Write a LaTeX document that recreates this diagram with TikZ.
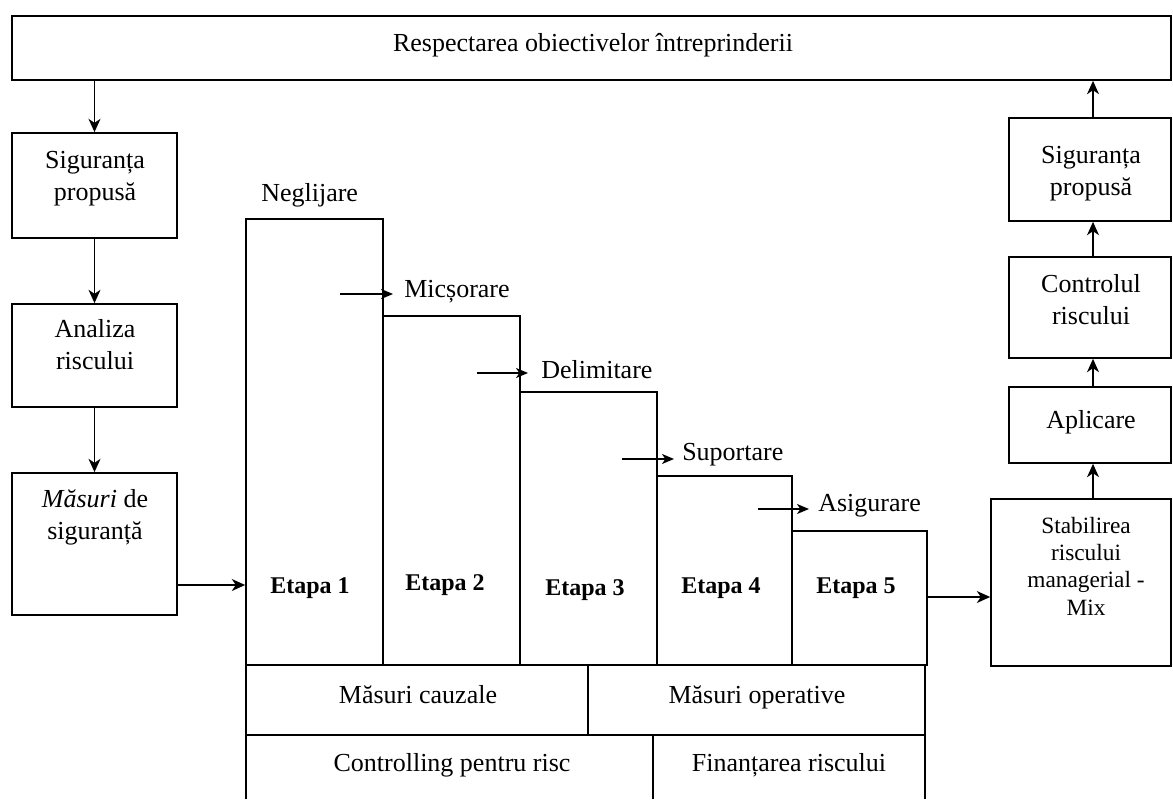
\documentclass[tikz,border=0pt]{standalone}
\usepackage{fontspec}
\setmainfont{Liberation Serif}
\usetikzlibrary{arrows.meta,fit}
\begin{document}
\begin{tikzpicture}[x=0.75pt,y=-0.75pt,
  box/.style={draw,line width=1.3pt,inner sep=0pt},
  nobox/.style={inner sep=0pt},
  txt/.style={inner sep=0pt,align=center,font=\fontsize{19.5}{24}\selectfont},
  small/.style={inner sep=0pt,align=center,font=\fontsize{17.5}{20.5}\selectfont},
  etap/.style={inner sep=0pt,font=\fontsize{18}{22}\selectfont\bfseries},
  arr/.style={line width=1.1pt,-{Stealth[length=10pt,width=9pt,inset=3pt]}},
  sarr/.style={line width=1pt,-{Stealth[length=9pt,width=7.5pt,inset=2.5pt]}}]
\useasboundingbox (0,0) rectangle (1173,799);
% top box
\node[box,fit={(12,16)(1171,80)}] (top) {};
\node[txt] (topT) at (593,45) {Respectarea obiectivelor întreprinderii};
% left column
\node[box,fit={(12,133)(177,238)}] (sigL) {};
\node[txt] (sigLT) at (95,179) {Siguranța\\propusă};
\node[box,fit={(12,304)(177,407)}] (anal) {};
\node[txt] (analT) at (95,345) {Analiza\\riscului};
\node[box,fit={(12,473)(177,615)}] (mas) {};
\node[txt] (masT) at (95,517) {\itshape Măsuri\upshape{} de\\siguranță};
\draw[arr] (sigL.north |- top.south) -- (sigL.north);
\draw[arr] (sigL.south) -- (anal.north);
\draw[arr] (anal.south) -- (mas.north);
% stairs
\node[box,fit={(246,219)(383,665)}] (e1) {};
\node[box,fit={(383,316)(520,665)}] (e2) {};
\node[box,fit={(520,392)(657,665)}] (e3) {};
\node[box,fit={(657,476)(792,665)}] (e4) {};
\node[box,fit={(792,531)(927,665)}] (e5) {};
\node[etap] (e1T) at (310,588) {Etapa 1};
\node[etap] (e2T) at (445,585) {Etapa 2};
\node[etap] (e3T) at (585,590) {Etapa 3};
\node[etap] (e4T) at (721,588) {Etapa 4};
\node[etap] (e5T) at (856,588) {Etapa 5};
\coordinate (masOut) at (mas.east |- 0,585);
\draw[arr] (masOut) -- (masOut -| e1.west);
% stage labels and small arrows
\node[txt,anchor=west] (negl) at (261,195) {Neglijare};
\node[txt,anchor=west] (mic) at (404,292) {Micșorare};
\node[txt,anchor=west] (del) at (541,370) {Delimitare};
\node[txt,anchor=west] (sup) at (682,455) {Suportare};
\node[txt,anchor=west] (asi) at (818,506) {Asigurare};
\coordinate (a1s) at (340,294); \coordinate (a1e) at (393,294);
\coordinate (a2s) at (477,373); \coordinate (a2e) at (528,373);
\coordinate (a3s) at (622,459); \coordinate (a3e) at (674,459);
\coordinate (a4s) at (758,509); \coordinate (a4e) at (809,509);
\draw[sarr] (a1s) -- (a1e);
\draw[sarr] (a2s) -- (a2e);
\draw[sarr] (a3s) -- (a3e);
\draw[sarr] (a4s) -- (a4e);
% bottom rows
\node[box,fit={(246,665)(588,735)}] (cauz) {};
\node[box,fit={(588,665)(925,735)}] (oper) {};
\node[txt,anchor=base] (cauzT) at (418,703) {Măsuri cauzale};
\node[txt,anchor=base] (operT) at (757,703) {Măsuri operative};
\node[nobox,fit={(246,735)(653,799)}] (ctrl) {};
\node[nobox,fit={(653,735)(925,799)}] (fin) {};
\draw[line width=1.3pt] (ctrl.south west) -- (ctrl.north west) -- (fin.north east) -- (fin.south east);
\draw[line width=1.3pt] (ctrl.north east) -- (ctrl.south east);
\node[txt,anchor=base] (ctrlT) at (452,771) {Controlling pentru risc};
\node[txt,anchor=base] (finT) at (789,771) {Finanțarea riscului};
% right column
\node[box,fit={(991,499)(1171,666)}] (stab) {};
\node[small] (stabT) at (1086,566) {Stabilirea\\riscului\\managerial -\\Mix};
\node[box,fit={(1009,387)(1171,463)}] (apl) {};
\node[txt] (aplT) at (1091,422) {Aplicare};
\node[box,fit={(1009,257)(1171,358)}] (ctl) {};
\node[txt] (ctlT) at (1091,300) {Controlul\\riscului};
\node[box,fit={(1009,118)(1171,221)}] (sigR) {};
\node[txt] (sigRT) at (1091,174) {Siguranța\\propusă};
\coordinate (e5out) at (e5.east |- 0,597);
\draw[arr] (e5out) -- (e5out -| stab.west);
\draw[arr] (apl.south -| 1093,0) ++(0,36) -- (apl.south -| 1093,0);
\draw[arr] (ctl.south -| 1093,0) ++(0,29) -- (ctl.south -| 1093,0);
\draw[arr] (sigR.south -| 1093,0) ++(0,36) -- (sigR.south -| 1093,0);
\draw[arr] (top.south -| 1093,0) ++(0,38) -- (top.south -| 1093,0);
\end{tikzpicture}
\end{document}
